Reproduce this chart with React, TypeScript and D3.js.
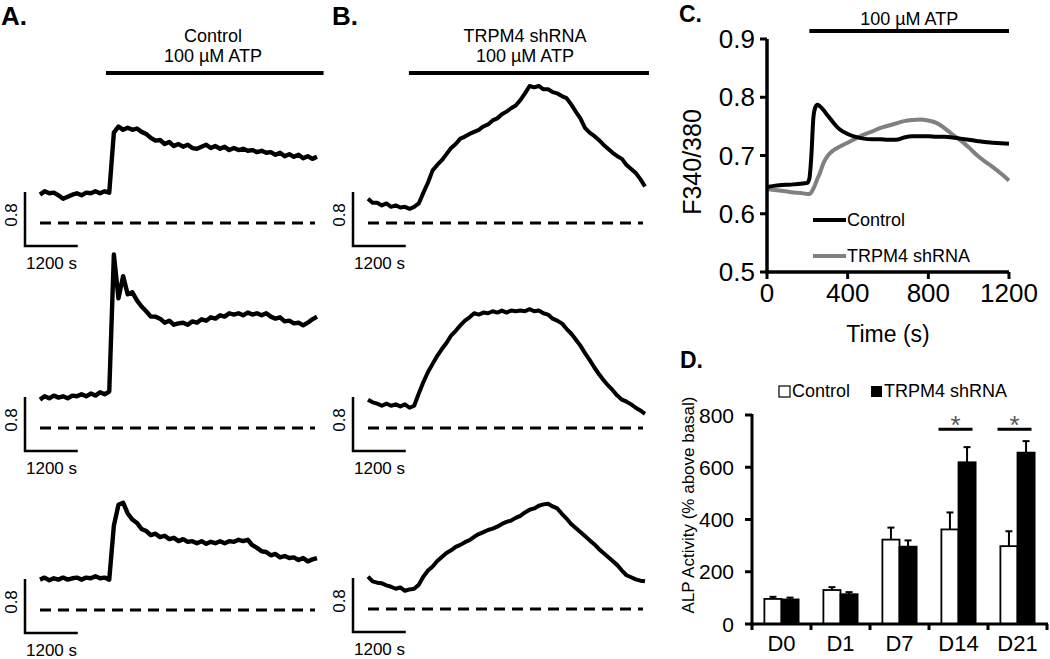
import React from 'react';
import * as d3 from 'd3';

const FONT = '"Liberation Sans", Arial, Helvetica, sans-serif';

// ---------- Panels A & B: single-cell traces (ΔF340/380 above dashed reference), one sample every 105 s ----------
const TRACE_STEP_S = 105;
const traceTimes = d3.range(61).map((i) => i * TRACE_STEP_S);

const ctrlTrace1 = [0.42,0.47,0.44,0.45,0.41,0.36,0.39,0.42,0.44,0.41,0.45,0.44,0.47,0.44,0.47,0.45,
  1.34,1.43,1.38,1.41,1.38,1.40,1.35,1.32,1.26,1.22,1.23,1.17,1.20,1.14,1.17,1.13,1.16,1.11,1.10,1.13,1.16,1.11,1.14,1.10,
  1.13,1.08,1.11,1.08,1.10,1.07,1.08,1.05,1.07,1.04,1.05,1.01,1.04,0.99,1.02,0.98,1.01,0.96,0.99,0.95,0.98];
const ctrlTrace2 = [0.42,0.47,0.44,0.48,0.45,0.47,0.44,0.48,0.47,0.50,0.47,0.51,0.48,0.53,0.50,0.54,
  2.57,1.92,2.25,1.98,2.01,1.89,1.80,1.73,1.65,1.65,1.62,1.56,1.59,1.53,1.55,1.56,1.53,1.58,1.56,1.61,1.59,1.64,1.62,1.67,
  1.65,1.70,1.68,1.70,1.67,1.71,1.68,1.70,1.67,1.70,1.65,1.62,1.64,1.58,1.59,1.55,1.56,1.52,1.56,1.61,1.65];
const ctrlTrace3 = [0.45,0.48,0.44,0.47,0.45,0.48,0.45,0.47,0.48,0.45,0.48,0.47,0.50,0.47,0.48,0.45,
  1.25,1.56,1.59,1.43,1.34,1.29,1.20,1.17,1.11,1.13,1.08,1.10,1.05,1.07,1.02,1.05,1.01,1.02,0.99,1.02,0.98,1.01,0.99,1.02,
  0.99,1.02,1.01,1.04,1.02,1.04,0.96,0.92,0.87,0.86,0.81,0.83,0.78,0.80,0.77,0.78,0.74,0.77,0.72,0.75,0.77];

const shTrace1 = [0.36,0.30,0.30,0.26,0.29,0.24,0.26,0.23,0.24,0.21,0.24,0.29,0.45,0.60,0.78,0.86,0.93,1.02,1.11,1.17,
  1.25,1.28,1.32,1.35,1.38,1.43,1.46,1.52,1.55,1.61,1.65,1.70,1.74,1.82,1.92,2.03,2.01,2.03,1.98,1.98,
  1.94,1.92,1.88,1.85,1.76,1.65,1.55,1.41,1.34,1.29,1.23,1.16,1.10,1.04,0.99,0.95,0.86,0.80,0.74,0.65,0.54];
const shTrace2 = [0.42,0.38,0.36,0.33,0.36,0.33,0.35,0.32,0.35,0.30,0.33,0.51,0.68,0.83,0.95,1.07,1.17,1.26,1.37,1.44,
  1.52,1.59,1.64,1.70,1.68,1.71,1.70,1.73,1.71,1.74,1.71,1.74,1.73,1.74,1.73,1.76,1.73,1.74,1.70,1.68,
  1.62,1.59,1.55,1.47,1.40,1.31,1.22,1.11,1.01,0.90,0.80,0.71,0.63,0.56,0.48,0.42,0.39,0.35,0.30,0.26,0.21];
const shTrace3 = [0.48,0.41,0.39,0.38,0.35,0.33,0.30,0.32,0.27,0.29,0.30,0.36,0.48,0.57,0.63,0.71,0.77,0.83,0.87,0.92,
  0.95,0.99,1.02,1.07,1.11,1.14,1.17,1.19,1.22,1.26,1.29,1.31,1.35,1.38,1.43,1.47,1.49,1.53,1.55,1.56,
  1.52,1.49,1.41,1.34,1.26,1.20,1.14,1.08,1.02,0.96,0.89,0.83,0.77,0.71,0.65,0.57,0.50,0.47,0.44,0.42,0.41];

const SCALE_BAR_RATIO = 0.8;
const SCALE_BAR_TIME = 1200;
const atpA = [1500, 6450];
const atpB = [930, 6390];

// ---------- Panel C: mean traces ----------
const cTimes = [0,60,120,180,200,210,220,230,240,250,260,280,300,330,360,400,440,480,520,560,600,640,680,720,760,800,840,880,920,960,1000,1040,1080,1120,1160,1200];
const cControl = [0.646,0.649,0.650,0.652,0.653,0.660,0.700,0.765,0.783,0.787,0.785,0.778,0.769,0.756,0.745,0.737,0.732,0.729,0.728,0.728,0.727,0.727,0.731,0.733,0.733,0.733,0.732,0.732,0.731,0.729,0.727,0.725,0.723,0.722,0.721,0.720];
const cShRNA = [0.642,0.640,0.637,0.635,0.634,0.634,0.637,0.643,0.651,0.660,0.668,0.687,0.699,0.709,0.715,0.722,0.729,0.736,0.741,0.747,0.751,0.755,0.759,0.761,0.762,0.760,0.756,0.747,0.736,0.726,0.714,0.701,0.690,0.680,0.669,0.657];
const cYTicks = [0.5, 0.6, 0.7, 0.8, 0.9];
const cXTicks = [0, 400, 800, 1200];
const atpC = [210, 1200];

// ---------- Panel D: ALP activity ----------
const days = ['D0', 'D1', 'D7', 'D14', 'D21'];
const alpControl = [96, 130, 323, 362, 298];
const alpControlSem = [8, 11, 46, 65, 57];
const alpShRNA = [94, 114, 296, 619, 656];
const alpShRNASem = [7, 8, 24, 58, 44];
const dYTicks = [0, 200, 400, 600, 800];
const significant = ['D14', 'D21'];
const sigLevel = 745;

function TraceColumn({ traces, x0, x1, bases, barX, atp, titleLines, titleX, letter, letterX, strokeW }: any) {
  const x = d3.scaleLinear().domain([0, traceTimes[traceTimes.length - 1]]).range([x0, x1]);
  const sbW = x(SCALE_BAR_TIME) - x(0);
  return (
    <g>
      <text x={letterX} y={25} fontSize={26} fontWeight="bold">{letter}</text>
      {titleLines.map((t: string, i: number) => (
        <text key={i} x={titleX} y={42 + i * 20} fontSize={18} textAnchor="middle">{t}</text>
      ))}
      <line x1={x(atp[0])} x2={x(atp[1])} y1={73} y2={73} stroke="#000" strokeWidth={4} />
      {traces.map((vals: number[], r: number) => {
        const base = bases[r];
        const y = d3.scaleLinear().domain([0, SCALE_BAR_RATIO]).range([base, base - 54]);
        const line = d3.line<number>().x((_, i) => x(traceTimes[i])).y((v) => y(v));
        const sbBottom = base + 23;
        const sbTop = sbBottom - (y(0) - y(SCALE_BAR_RATIO));
        return (
          <g key={r}>
            <path d={line(vals) || ''} fill="none" stroke="#000" strokeWidth={strokeW} strokeLinejoin="round" />
            <line x1={x(0)} x2={x1 - 2} y1={y(0)} y2={y(0)} stroke="#000" strokeWidth={3} strokeDasharray="11 7" />
            <path d={`M${barX},${sbTop}V${sbBottom}H${barX + sbW}`} fill="none" stroke="#000" strokeWidth={2.5} />
            <text transform={`translate(${barX - 14},${(sbTop + sbBottom) / 2 - 4}) rotate(-90)`} fontSize={17}
              textAnchor="middle" dominantBaseline="central">0.8</text>
            <text x={barX + 1} y={sbBottom + 17} fontSize={17} dominantBaseline="central">1200 s</text>
          </g>
        );
      })}
    </g>
  );
}

function PanelC() {
  const x = d3.scaleLinear().domain([0, 1200]).range([767, 1009]);
  const y = d3.scaleLinear().domain([0.5, 0.9]).range([272, 39]);
  const line = d3.line<number>().x((_, i) => x(cTimes[i])).y((v) => y(v)).curve(d3.curveMonotoneX);
  return (
    <g>
      <text x={679} y={22} fontSize={23} fontWeight="bold">C.</text>
      <text x={(x(atpC[0]) + x(atpC[1])) / 2} y={25} fontSize={18} textAnchor="middle">100 µM ATP</text>
      <line x1={x(atpC[0])} x2={x(atpC[1])} y1={31} y2={31} stroke="#000" strokeWidth={4} />
      <path d={line(cShRNA) || ''} fill="none" stroke="#808080" strokeWidth={4} />
      <path d={line(cControl) || ''} fill="none" stroke="#000" strokeWidth={4} />
      <line x1={x(0)} x2={x(0)} y1={y(0.9)} y2={y(0.5) + 1.5} stroke="#000" strokeWidth={3.5} />
      <line x1={x(0) - 1.5} x2={x(1200)} y1={y(0.5)} y2={y(0.5)} stroke="#000" strokeWidth={3.5} />
      {cYTicks.map((t) => (
        <g key={t}>
          <line x1={x(0) - 7} x2={x(0)} y1={y(t)} y2={y(t)} stroke="#000" strokeWidth={3} />
          <text x={755} y={y(t)} fontSize={26} textAnchor="end" dominantBaseline="central">{t.toFixed(1)}</text>
        </g>
      ))}
      {cXTicks.map((t) => (
        <g key={t}>
          <line x1={x(t)} x2={x(t)} y1={y(0.5)} y2={y(0.5) + 7} stroke="#000" strokeWidth={3} />
          <text x={x(t)} y={302} fontSize={26} textAnchor="middle">{t}</text>
        </g>
      ))}
      <text x={888} y={342} fontSize={23} textAnchor="middle">Time (s)</text>
      <text transform="translate(692,162) rotate(-90)" fontSize={25} textAnchor="middle" dominantBaseline="central">F340/380</text>
      <line x1={813} x2={846} y1={220} y2={220} stroke="#000" strokeWidth={4} />
      <text x={847} y={220} fontSize={18} dominantBaseline="central">Control</text>
      <line x1={813} x2={846} y1={256} y2={256} stroke="#808080" strokeWidth={4} />
      <text x={847} y={256} fontSize={18} dominantBaseline="central">TRPM4 shRNA</text>
    </g>
  );
}

function PanelD() {
  const x0 = d3.scaleBand<string>().domain(days).range([752, 1047]);
  const bw = x0.bandwidth();
  const barW = bw * 0.29;
  const y = d3.scaleLinear().domain([0, 800]).range([624, 415]);
  const series = [
    { vals: alpControl, sem: alpControlSem, fill: '#fff', off: -barW },
    { vals: alpShRNA, sem: alpShRNASem, fill: '#000', off: 0 },
  ];
  return (
    <g>
      <text x={680} y={368} fontSize={23} fontWeight="bold">D.</text>
      <rect x={779} y={386} width={11} height={11} fill="#fff" stroke="#000" strokeWidth={1.2} />
      <text x={792} y={397} fontSize={18}>Control</text>
      <rect x={871} y={386} width={11} height={11} fill="#000" />
      <text x={884} y={397} fontSize={18}>TRPM4 shRNA</text>
      <text transform="translate(688,505) rotate(-90)" fontSize={17} textAnchor="middle" dominantBaseline="central">ALP Activity (% above basal)</text>
      {series.map((s, si) =>
        days.map((d, i) => {
          const bx = (x0(d) as number) + bw / 2 + s.off;
          const cx = bx + barW / 2;
          return (
            <g key={si + d}>
              <line x1={cx} x2={cx} y1={y(s.vals[i])} y2={y(s.vals[i] + s.sem[i])} stroke="#000" strokeWidth={2} />
              <line x1={cx - 3.5} x2={cx + 3.5} y1={y(s.vals[i] + s.sem[i])} y2={y(s.vals[i] + s.sem[i])} stroke="#000" strokeWidth={2} />
              <rect x={bx} y={y(s.vals[i])} width={barW} height={y(0) - y(s.vals[i])} fill={s.fill} stroke="#000" strokeWidth={1.8} />
            </g>
          );
        })
      )}
      {significant.map((d) => {
        const c = (x0(d) as number) + bw / 2 - 3;
        return (
          <g key={d}>
            <line x1={c - 17} x2={c + 17} y1={y(sigLevel)} y2={y(sigLevel)} stroke="#000" strokeWidth={3} />
            <text x={c} y={y(sigLevel) + 5} fontSize={26} textAnchor="middle" fill="#555">*</text>
          </g>
        );
      })}
      <line x1={752} x2={752} y1={y(800) - 1} y2={y(0) + 1.5} stroke="#000" strokeWidth={3} />
      <line x1={750.5} x2={1048} y1={y(0)} y2={y(0)} stroke="#000" strokeWidth={3} />
      {dYTicks.map((t) => (
        <g key={t}>
          <line x1={745} x2={752} y1={y(t)} y2={y(t)} stroke="#000" strokeWidth={3} />
          <text x={734} y={y(t)} fontSize={21} textAnchor="end" dominantBaseline="central">{t}</text>
        </g>
      ))}
      {[...days.map((d) => x0(d) as number), 1047].map((bx, i) => (
        <line key={i} x1={bx} x2={bx} y1={y(0)} y2={y(0) + 6} stroke="#000" strokeWidth={3} />
      ))}
      {days.map((d) => (
        <text key={d} x={(x0(d) as number) + bw / 2} y={651} fontSize={22} textAnchor="middle">{d}</text>
      ))}
    </g>
  );
}

export default function App() {
  return (
    <svg width={1050} height={659} style={{ position: 'absolute', left: 0, top: 0, display: 'block' }} fontFamily={FONT}>
      <rect width={1050} height={659} fill="#fff" />
      <TraceColumn traces={[ctrlTrace1, ctrlTrace2, ctrlTrace3]} x0={40} x1={317} bases={[223, 428, 610]}
        barX={25} atp={atpA} titleLines={['Control', '100 µM ATP']} titleX={213} letter="A." letterX={1} strokeW={4.4} />
      <TraceColumn traces={[shTrace1, shTrace2, shTrace3]} x0={368} x1={645} bases={[223, 428, 609]}
        barX={353} atp={atpB} titleLines={['TRPM4 shRNA', '100 µM ATP']} titleX={525} letter="B." letterX={332} strokeW={4} />
      <PanelC />
      <PanelD />
    </svg>
  );
}
